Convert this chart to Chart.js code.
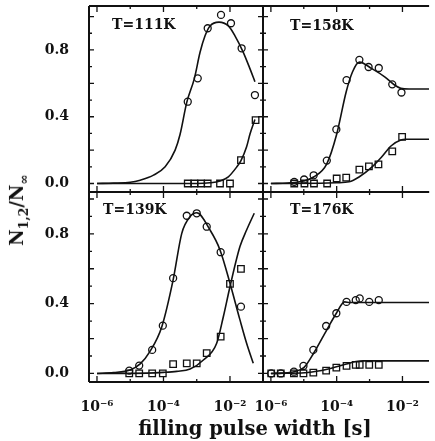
<!DOCTYPE html>
<html>
<head>
<meta charset="utf-8">
<script src="https://cdn.jsdelivr.net/npm/chart.js@4"></script>
<style>
  body { margin: 0; background: #fff; }
  #wrap { position: relative; width: 435px; height: 441px; background: #fff; overflow: hidden; }
  #wrap canvas { position: absolute; left: 0; top: 0; }
  .ttl { position: absolute; font-family: "DejaVu Serif", serif; font-weight: bold; color: #111; white-space: nowrap; line-height: 1; }
  #xtitle { left: 255px; top: 419px; font-size: 19.5px; transform: translateX(-50%); }
  #ytitle { left: 19px; top: 210px; font-size: 18px; transform: translate(-50%, -50%) rotate(-90deg); }
  #ytitle sub { font-size: 12.5px; }
</style>
</head>
<body>
<div id="wrap">
  <canvas id="p111" width="435" height="441"></canvas>
  <canvas id="p158" width="435" height="441"></canvas>
  <canvas id="p139" width="435" height="441"></canvas>
  <canvas id="p176" width="435" height="441"></canvas>
  <div class="ttl" id="xtitle">filling pulse width [s]</div>
  <div class="ttl" id="ytitle">N<sub>1,2</sub>/N<sub>∞</sub></div>
</div>
<script>
// axis ticks
const xTicks = [1e-6, 1e-4, 1e-2];
const yTicks = [0, 0.4, 0.8];
const decades = [-6, -5, -4, -3, -2, -1];

// T = 111 K  (x values as log10 of the pulse width)
const t111CircLogX = [-3.27, -2.97, -2.67, -2.27, -1.97, -1.65, -1.25];
const t111CircY = [0.49, 0.63, 0.93, 1.01, 0.96, 0.81, 0.53];
const t111SqLogX = [-3.27, -3.07, -2.87, -2.67, -2.30, -2.00, -1.67, -1.23];
const t111SqY = [0, 0, 0, 0, 0, 0, 0.14, 0.38];
const t111FitCLogX = [-6.0, -5.5, -5.0, -4.7, -4.3, -3.95, -3.65, -3.5, -3.3, -3.07, -2.9, -2.75, -2.6, -2.33, -2.05, -1.85, -1.6, -1.4, -1.25];
const t111FitCY = [0, 0.002, 0.007, 0.02, 0.05, 0.10, 0.20, 0.295, 0.486, 0.63, 0.786, 0.885, 0.944, 0.967, 0.944, 0.885, 0.786, 0.688, 0.61];
const t111FitSLogX = [-6.0, -3.0, -2.6, -2.3, -2.05, -1.8, -1.67, -1.5, -1.4, -1.25];
const t111FitSY = [0, 0, 0.004, 0.015, 0.04, 0.098, 0.137, 0.22, 0.295, 0.383];

// T = 158 K
const t158CircLogX = [-5.29, -4.99, -4.70, -4.30, -4.01, -3.70, -3.31, -3.03, -2.72, -2.31, -2.03];
const t158CircY = [0.01, 0.024, 0.049, 0.137, 0.324, 0.619, 0.741, 0.698, 0.692, 0.594, 0.545];
const t158SqLogX = [-5.29, -4.98, -4.69, -4.29, -4.00, -3.71, -3.31, -3.02, -2.73, -2.31, -2.01];
const t158SqY = [0, 0, 0, 0, 0.03, 0.035, 0.083, 0.102, 0.114, 0.192, 0.279];
const t158FitCLogX = [-6.0, -5.5, -5.0, -4.7, -4.3, -4.0, -3.71, -3.52, -3.31, -2.93, -2.54, -2.24, -2.05, -1.8, -1.0];
const t158FitCY = [0, 0.003, 0.015, 0.039, 0.118, 0.295, 0.55, 0.668, 0.727, 0.688, 0.639, 0.59, 0.57, 0.566, 0.566];
const t158FitSLogX = [-6.0, -4.5, -4.0, -3.62, -3.32, -2.93, -2.64, -2.34, -2.05, -1.9, -1.0];
const t158FitSY = [0, 0.001, 0.004, 0.01, 0.039, 0.098, 0.157, 0.226, 0.26, 0.265, 0.265];

// T = 139 K
const t139CircLogX = [-5.03, -4.73, -4.34, -4.02, -3.71, -3.30, -3.00, -2.70, -2.28, -1.67];
const t139CircY = [0.016, 0.045, 0.135, 0.274, 0.546, 0.904, 0.918, 0.841, 0.695, 0.383];
const t139SqLogX = [-5.03, -4.73, -4.34, -4.02, -3.71, -3.30, -3.00, -2.70, -2.28, -2.00, -1.67];
const t139SqY = [0, 0, 0, 0, 0.054, 0.058, 0.058, 0.116, 0.211, 0.513, 0.599];
const t139FitCLogX = [-6.0, -5.5, -5.01, -4.7, -4.41, -4.05, -3.71, -3.45, -3.2, -3.0, -2.6, -2.3, -2.0, -1.7, -1.5, -1.3];
const t139FitCY = [0, 0.005, 0.02, 0.055, 0.125, 0.268, 0.536, 0.803, 0.899, 0.921, 0.822, 0.708, 0.517, 0.307, 0.173, 0.058];
const t139FitSLogX = [-6.0, -4.5, -4.0, -3.6, -3.2, -2.8, -2.4, -2.2, -2.0, -1.7, -1.5, -1.27];
const t139FitSY = [0, 0.002, 0.006, 0.012, 0.025, 0.077, 0.173, 0.325, 0.497, 0.727, 0.822, 0.918];

// T = 176 K
const t176CircLogX = [-5.99, -5.70, -5.30, -5.01, -4.71, -4.32, -4.01, -3.70, -3.42, -3.30, -3.01, -2.72];
const t176CircY = [0, 0, 0.01, 0.043, 0.135, 0.272, 0.345, 0.41, 0.42, 0.43, 0.41, 0.42];
const t176SqLogX = [-5.99, -5.70, -5.30, -5.01, -4.71, -4.32, -4.01, -3.70, -3.42, -3.30, -3.01, -2.72];
const t176SqY = [0, 0, 0, 0, 0.005, 0.016, 0.033, 0.043, 0.049, 0.049, 0.049, 0.049];
const t176FitCLogX = [-6.0, -5.68, -5.29, -4.99, -4.7, -4.3, -4.01, -3.76, -3.6, -1.0];
const t176FitCY = [0, 0.002, 0.01, 0.035, 0.116, 0.25, 0.345, 0.41, 0.407, 0.407];
const t176FitSLogX = [-6.0, -5.5, -4.88, -4.29, -3.7, -3.41, -3.2, -1.0];
const t176FitSY = [0, 0.001, 0.005, 0.024, 0.054, 0.068, 0.072, 0.072];

const ink = '#111';
const font = { family: '"DejaVu Serif", serif', size: 14, weight: 'bold' };
const supDigits = { '-': '⁻', '0': '⁰', '1': '¹', '2': '²', '3': '³', '4': '⁴', '5': '⁵', '6': '⁶', '7': '⁷', '8': '⁸', '9': '⁹' };

const pts = (lx, ys) => lx.map((e, i) => ({ x: Math.pow(10, e), y: ys[i] }));

// frame, inward ticks and the panel label
const framePlugin = {
  id: 'frame',
  afterDatasetsDraw(chart, args, o) {
    const { ctx, chartArea: a, scales: { x, y } } = chart;
    ctx.save();
    ctx.strokeStyle = ink;
    ctx.lineWidth = 2;
    ctx.beginPath();
    ctx.moveTo(a.left, a.top); ctx.lineTo(a.left, a.bottom);
    ctx.moveTo(a.left, a.top); ctx.lineTo(a.right, a.top);
    ctx.moveTo(a.left, a.bottom); ctx.lineTo(a.right, a.bottom);
    if (o.rightEdge) { ctx.moveTo(a.right, a.top); ctx.lineTo(a.right, a.bottom); }
    ctx.stroke();

    ctx.lineWidth = 1.3;
    ctx.beginPath();
    decades.forEach(e => {
      const px = x.getPixelForValue(Math.pow(10, e));
      if (px < a.left + 2 || px > a.right - 2) return;
      const len = e % 2 === 0 ? 6 : 3;
      ctx.moveTo(px, a.bottom); ctx.lineTo(px, a.bottom - len);
      ctx.moveTo(px, a.top); ctx.lineTo(px, a.top + len);
    });
    for (let k = 0; k <= 10; k++) {
      const py = y.getPixelForValue(k / 10);
      if (py < a.top + 2 || py > a.bottom - 2) continue;
      const len = k % 2 === 0 ? 5 : 3;
      ctx.moveTo(a.left, py); ctx.lineTo(a.left + len, py);
      if (o.rightEdge) { ctx.moveTo(a.right, py); ctx.lineTo(a.right - len, py); }
    }
    ctx.stroke();

    ctx.fillStyle = ink;
    ctx.font = 'bold ' + font.size + 'px ' + font.family;
    ctx.textBaseline = 'middle';
    ctx.fillText(o.label, a.left + o.dx, a.top + o.dy);
    ctx.restore();
  }
};

function makePanel(id, p) {
  new Chart(document.getElementById(id), {
    type: 'line',
    data: {
      datasets: [
        { data: pts(p.fitC[0], p.fitC[1]), borderColor: ink, borderWidth: 1.6, pointRadius: 0, cubicInterpolationMode: 'monotone' },
        { data: pts(p.fitS[0], p.fitS[1]), borderColor: ink, borderWidth: 1.6, pointRadius: 0, cubicInterpolationMode: 'monotone' },
        { data: pts(p.circ[0], p.circ[1]), showLine: false, pointStyle: 'circle', pointRadius: 3.5,
          pointBorderColor: ink, pointBackgroundColor: 'rgba(0,0,0,0)', pointBorderWidth: 1.3 },
        { data: pts(p.sq[0], p.sq[1]), showLine: false, pointStyle: 'rect', pointRadius: 4.6,
          pointBorderColor: ink, pointBackgroundColor: 'rgba(0,0,0,0)', pointBorderWidth: 1.3 }
      ]
    },
    options: {
      responsive: false,
      animation: false,
      devicePixelRatio: 1,
      layout: { padding: p.pad },
      plugins: {
        legend: { display: false },
        tooltip: { enabled: false },
        frame: { label: p.label, dx: p.dx, dy: p.dy, rightEdge: p.rightEdge }
      },
      scales: {
        x: {
          type: 'logarithmic',
          display: p.showX,
          min: Math.pow(10, -6.24),
          max: Math.pow(10, p.xMaxLog),
          grid: { display: false },
          border: { display: false },
          afterBuildTicks: s => { s.ticks = xTicks.map(v => ({ value: v })); },
          afterFit: s => { s.height = p.showX ? 30 : 0; s.paddingLeft = 0; s.paddingRight = 0; },
          ticks: {
            autoSkip: false, maxRotation: 0, padding: 9, color: ink, font: font,
            callback: v => '10' + String(Math.round(Math.log10(v))).split('').map(c => supDigits[c]).join('')
          }
        },
        y: {
          display: p.showY,
          min: p.yMin,
          max: p.yMax,
          grid: { display: false },
          border: { display: false },
          afterBuildTicks: s => { s.ticks = yTicks.map(v => ({ value: v })); },
          afterFit: s => { s.width = p.showY ? 60 : 0; s.paddingTop = 0; s.paddingBottom = 0; },
          ticks: { padding: 12, color: ink, font: font, callback: v => v.toFixed(1) }
        }
      }
    },
    plugins: [framePlugin]
  });
}

makePanel('p111', {
  label: 'T=111K', dx: 23, dy: 19, rightEdge: true,
  circ: [t111CircLogX, t111CircY], sq: [t111SqLogX, t111SqY],
  fitC: [t111FitCLogX, t111FitCY], fitS: [t111FitSLogX, t111FitSY],
  showX: false, showY: true, xMaxLog: -1.007, yMin: -0.051, yMax: 1.064,
  pad: { left: 29, top: 3, right: 172, bottom: 249 }
});
makePanel('p158', {
  label: 'T=158K', dx: 27, dy: 20, rightEdge: false,
  circ: [t158CircLogX, t158CircY], sq: [t158SqLogX, t158SqY],
  fitC: [t158FitCLogX, t158FitCY], fitS: [t158FitSLogX, t158FitSY],
  showX: false, showY: false, xMaxLog: -1.19, yMin: -0.051, yMax: 1.064,
  pad: { left: 263, top: 3, right: 0, bottom: 249 }
});
makePanel('p139', {
  label: 'T=139K', dx: 14, dy: 18, rightEdge: true,
  circ: [t139CircLogX, t139CircY], sq: [t139SqLogX, t139SqY],
  fitC: [t139FitCLogX, t139FitCY], fitS: [t139FitSLogX, t139FitSY],
  showX: true, showY: true, xMaxLog: -1.007, yMin: -0.049, yMax: 1.04,
  pad: { left: 29, top: 192, right: 172, bottom: 29 }
});
makePanel('p176', {
  label: 'T=176K', dx: 27, dy: 18, rightEdge: false,
  circ: [t176CircLogX, t176CircY], sq: [t176SqLogX, t176SqY],
  fitC: [t176FitCLogX, t176FitCY], fitS: [t176FitSLogX, t176FitSY],
  showX: true, showY: false, xMaxLog: -1.19, yMin: -0.049, yMax: 1.04,
  pad: { left: 263, top: 192, right: 0, bottom: 29 }
});
</script>
</body>
</html>
